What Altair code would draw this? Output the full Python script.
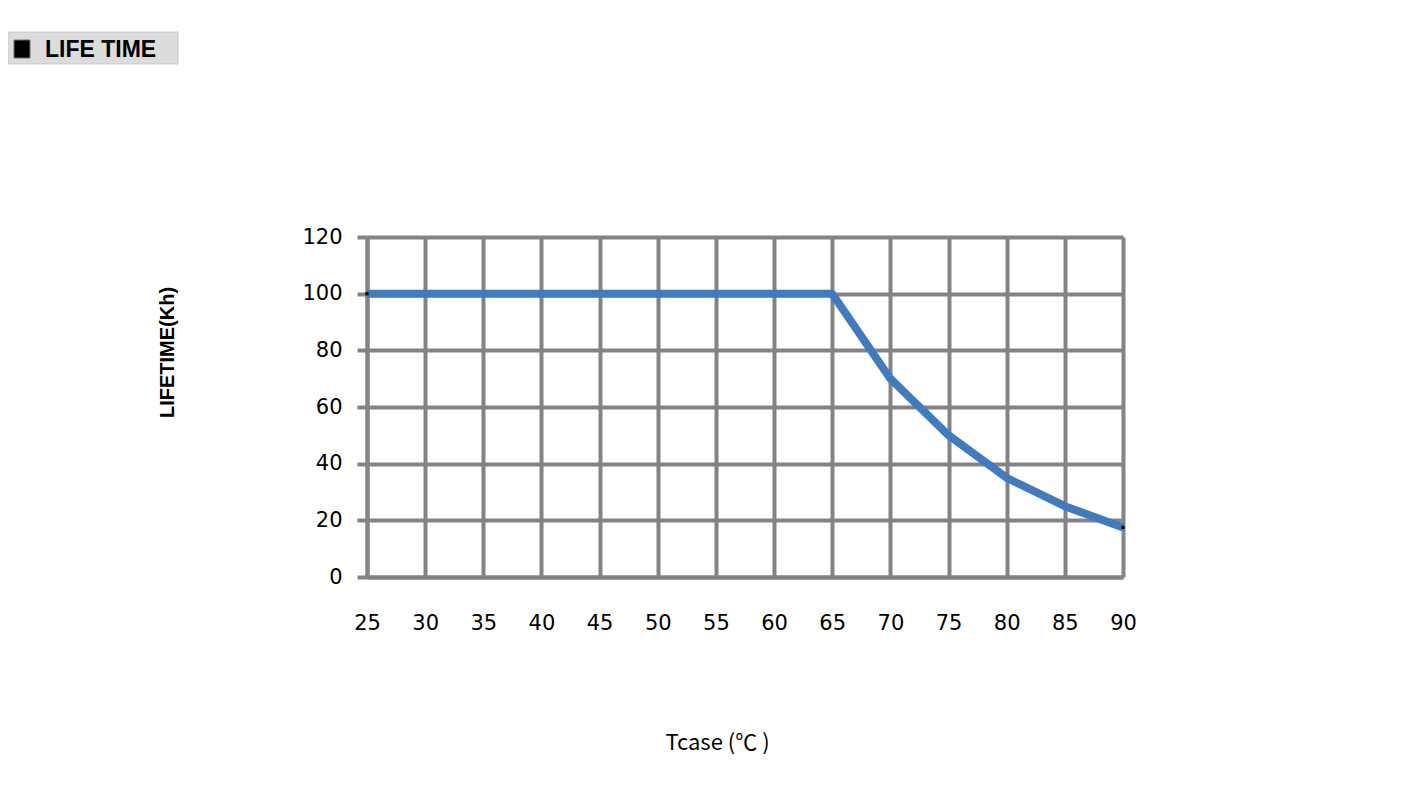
import altair as alt
import pandas as pd

tcase = [25, 30, 35, 40, 45, 50, 55, 60, 65, 70, 75, 80, 85, 90]
lifetime = [100, 100, 100, 100, 100, 100, 100, 100, 100, 70, 50, 35, 25, 17.5]
x_ticks = [25, 30, 35, 40, 45, 50, 55, 60, 65, 70, 75, 80, 85, 90]
y_ticks = [0, 20, 40, 60, 80, 100, 120]
end_x = [25, 90]
end_y = [100, 17.5]

df = pd.DataFrame({"t": tcase, "life": lifetime})
ends = pd.DataFrame({"t": end_x, "life": end_y})
dummy = pd.DataFrame({"k": [0]})

GRID = "#838387"
BLUE = "#3F7BBE"

xenc = alt.X(
    "t:Q",
    scale=alt.Scale(domain=[25, 90], nice=False, zero=False),
    axis=alt.Axis(
        values=x_ticks, title="Tcase (℃ )", grid=True, gridColor=GRID, gridWidth=4,
        domainColor=GRID, domainWidth=4, ticks=False, labelPadding=35, labelFlush=False,
        labelFont="DejaVu Sans", labelFontSize=21, labelColor="#000000",
        titleFont="Noto Sans CJK JP", titleFontSize=22, titleFontWeight="normal",
        titleColor="#000000", titleX=350, titleY=165, titleAlign="center",
        titleBaseline="middle",
    ),
)
yenc = alt.Y(
    "life:Q",
    scale=alt.Scale(domain=[0, 120], nice=False),
    axis=alt.Axis(
        values=y_ticks, title="LIFETIME(Kh)", grid=True, gridColor=GRID, gridWidth=4,
        domainColor=GRID, domainWidth=4, tickColor=GRID, tickWidth=4, tickSize=10,
        labelPadding=15, labelFont="DejaVu Sans", labelFontSize=21, labelColor="#000000",
        labelFlush=False,
        titleFont="Liberation Sans", titleFontSize=20, titleFontWeight="bold",
        titleColor="#000000", titleX=-200, titleY=115, titleAlign="center",
        titleBaseline="middle", titleAngle=270,
    ),
)

line = alt.Chart(df).mark_line(color=BLUE, strokeWidth=8, strokeJoin="round").encode(x=xenc, y=yenc)
dots = alt.Chart(ends).mark_point(filled=True, color="#000000", size=14, opacity=1).encode(x="t:Q", y="life:Q")

box = alt.Chart(dummy).mark_rect(fill="#DCDCDC", stroke="#C8C8C8", strokeWidth=1).encode(
    x=alt.value(-359), x2=alt.value(-189), y=alt.value(-205), y2=alt.value(-173)
)
square = alt.Chart(dummy).mark_rect(fill="#000000", stroke="#707070", strokeWidth=1).encode(
    x=alt.value(-353), x2=alt.value(-337), y=alt.value(-197), y2=alt.value(-179)
)
label = alt.Chart(dummy).mark_text(
    text="LIFE TIME", font="Liberation Sans", fontSize=23, fontWeight="bold",
    align="left", baseline="middle", color="#000000",
).encode(x=alt.value(-322), y=alt.value(-187))

chart = alt.layer(line, dots, box, square, label).properties(
    width=756, height=340,
    autosize=alt.AutoSizeParams(type="none"),
    padding={"left": 359, "top": 229, "right": 280, "bottom": 200},
).configure_view(stroke=None)

chart.save("out.html", embed_options={"renderer": "svg", "actions": False})
